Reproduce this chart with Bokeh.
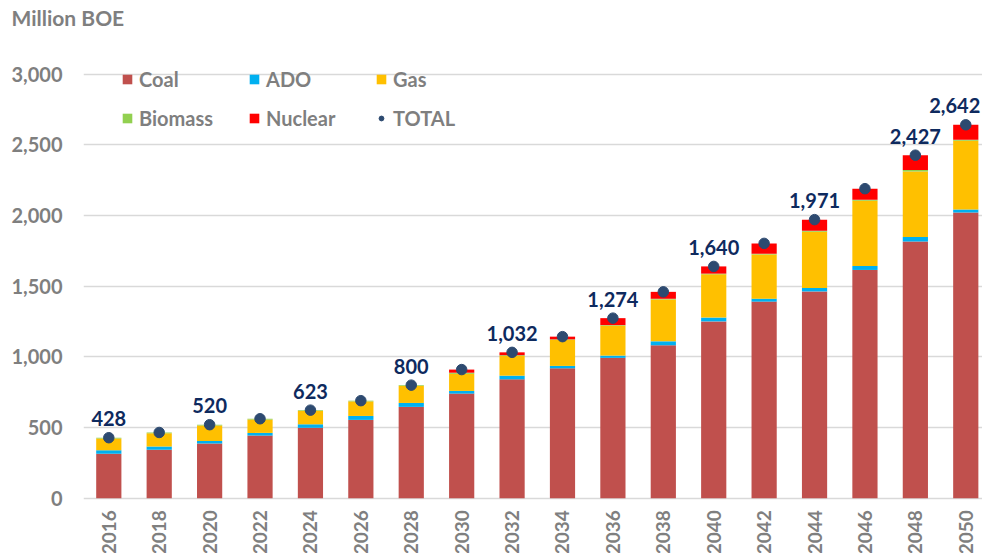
import math
from bokeh.plotting import figure
from bokeh.models import ColumnDataSource, FixedTicker, NumeralTickFormatter, Range1d
from bokeh.core.properties import value
from bokeh.embed import file_html
from bokeh.resources import INLINE

# ---- data (Million BOE) ----
years   = [2016, 2018, 2020, 2022, 2024, 2026, 2028, 2030, 2032,
           2034, 2036, 2038, 2040, 2042, 2044, 2046, 2048, 2050]
coal    = [314, 342, 387, 443, 498, 554, 646, 740, 841,
           919, 993, 1082, 1251, 1391, 1463, 1615, 1817, 2022]
ado     = [25, 24, 17, 19, 25, 28, 28, 19, 26,
           17, 16, 28, 27, 21, 25, 28, 31, 21]
gas     = [84, 93, 110, 94, 95, 103, 121, 121, 140,
           184, 212, 296, 306, 313, 398, 462, 464, 486]
biomass = [5, 6, 6, 6, 5, 5, 5, 8, 5,
           4, 4, 5, 5, 5, 6, 7, 10, 7]
nuclear = [0, 0, 0, 0, 0, 0, 0, 22, 20,
           19, 49, 49, 51, 73, 79, 78, 105, 106]
total   = [428, 465, 520, 562, 623, 690, 800, 910, 1032,
           1143, 1274, 1460, 1640, 1803, 1971, 2190, 2427, 2642]

label_years  = [2016, 2020, 2024, 2028, 2032, 2036, 2040, 2044, 2048, 2050]
label_values = [428, 520, 623, 800, 1032, 1274, 1640, 1971, 2427, 2642]

series_names = ["Coal", "ADO", "Gas", "Biomass", "Nuclear"]
y_ticks = [0, 500, 1000, 1500, 2000, 2500, 3000]

# ---- styles ----
FONT = "Lato"
GREY = "#7F7F7F"
NAVY = "#0E2A5E"
DOT = "#2D4A70"
colors = ["#C0504D", "#00B0F0", "#FFC000", "#92D050", "#FF0000"]

W, H = 982, 553
TOP = 29
LEFT = 83
zero_px = 497.7
px_per_unit = (497.7 - 73.7) / 3000.0
y_end = (zero_px - TOP) / px_per_unit
y_start = -(H - zero_px) / px_per_unit
px_per_year = 25.205
x_start = 2016 - 25.3 / px_per_year
x_end = x_start + (W - LEFT) / px_per_year

src = ColumnDataSource(dict(year=years, coal=coal, ado=ado, gas=gas,
                            biomass=biomass, nuclear=nuclear, total=total))

p = figure(width=W, height=H, output_backend="svg", toolbar_location=None,
           x_axis_location=None,
           x_range=Range1d(x_start, x_end), y_range=Range1d(y_start, y_end),
           min_border_left=LEFT, min_border_right=0, min_border_top=TOP,
           min_border_bottom=0)
p.outline_line_color = None
p.background_fill_color = "white"
p.border_fill_color = "white"

p.vbar_stack(["coal", "ado", "gas", "biomass", "nuclear"], x="year", width=1.0,
             fill_color=colors, line_color=None, source=src,
             legend_label=series_names)

p.scatter("year", "total", source=src, size=10.5, fill_color=DOT, line_color=DOT,
          legend_label="TOTAL")

tot_by_year = dict(zip(years, total))
lab_src = ColumnDataSource(dict(
    x=label_years,
    y=[tot_by_year[yr] for yr in label_years],
    text=["{:,}".format(v) for v in label_values],
    dx=[0] * (len(label_years) - 1) + [-11],
))
p.text(x="x", y="y", text="text", x_offset="dx", source=lab_src,
       text_align="center", text_baseline="alphabetic", y_offset=-19,
       text_font=value(FONT), text_font_style="bold", text_font_size="20px",
       text_color=NAVY)

# year labels (vertical)
yr_src = ColumnDataSource(dict(x=years, y=[0] * len(years),
                               text=[str(y) for y in years]))
p.text(x="x", y="y", text="text", source=yr_src, angle=math.pi / 2,
       text_align="right", text_baseline="middle", y_offset=12,
       text_font=value(FONT), text_font_style="bold", text_font_size="19px",
       text_color=GREY)

# y axis
ax = p.yaxis[0]
ax.ticker = FixedTicker(ticks=y_ticks)
ax.formatter = NumeralTickFormatter(format="0,0")
ax.axis_line_color = None
ax.major_tick_line_color = None
ax.minor_tick_line_color = None
ax.major_tick_out = 0
ax.major_tick_in = 0
ax.major_label_standoff = 21
ax.major_label_text_font = FONT
ax.major_label_text_font_style = "bold"
ax.major_label_text_font_size = "20px"
ax.major_label_text_color = GREY

for g in p.grid:
    if g.dimension == 0:
        g.visible = False
    else:
        g.grid_line_color = "#D9D9D9"
        g.grid_line_width = 1.5

# title
p.title.text = "Million BOE"
p.title.align = "left"
p.title.offset = -72
p.title.standoff = 0
p.title.text_font = FONT
p.title.text_font_style = "bold"
p.title.text_font_size = "21px"
p.title.text_color = GREY

# legend (column-major fill -> reorder so rows read Coal/ADO/Gas, Biomass/Nuclear/TOTAL)
lg = p.legend[0]
it = list(lg.items)
lg.items = [it[0], it[3], it[1], it[4], it[2], it[5]]
lg.ncols = 3
lg.location = "top_left"
lg.margin = 0
lg.padding = 38
lg.spacing = 15
lg.glyph_width = 12
lg.glyph_height = 12
lg.label_standoff = 6
lg.label_width = 94
lg.label_height = 22
lg.label_text_font = FONT
lg.label_text_font_style = "bold"
lg.label_text_font_size = "20px"
lg.label_text_color = GREY
lg.background_fill_alpha = 0
lg.border_line_alpha = 0

open("out.html", "w").write(file_html(p, INLINE))
